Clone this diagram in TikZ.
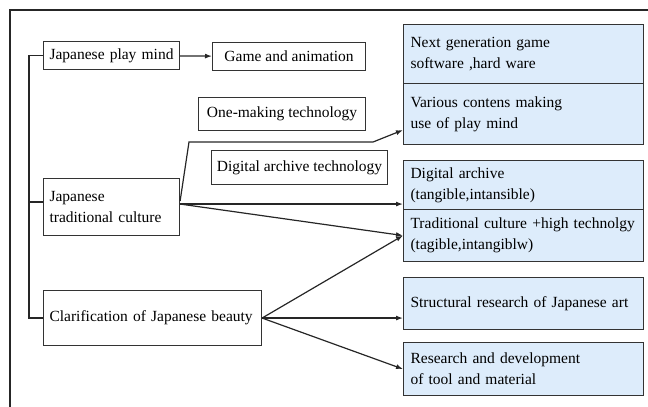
\documentclass[tikz,border=0pt]{standalone}
\usepackage{fontspec}
\setmainfont{Liberation Serif}
\usetikzlibrary{arrows.meta}
\definecolor{hellblau}{RGB}{221,236,251}
\begin{document}
\begin{tikzpicture}[x=1pt,y=-1pt,
    every node/.style={font=\fontsize{15.5}{21}\selectfont},
    box/.style={draw=black!80,line width=1.1pt,inner sep=0pt,anchor=north west},
    bluebox/.style={box,fill=hellblau,minimum width=240,text width=226,align=left},
    line/.style={draw=black!85,line width=1.2pt},
    arrow/.style={line,-{Latex[length=7pt,width=5pt]}}]
  \useasboundingbox (0,0) rectangle (648,407);

  % Rahmen
  \draw[line width=1.6pt,black!85] (10,407) -- (10,10) -- (648,10);

  % Linke Kaesten
  \node[box,minimum width=136,minimum height=28,text width=124,align=left]
    (playmind) at (43,41) {Japanese play mind};
  \node[box,minimum width=136,minimum height=57,text width=124,align=left]
    (tradcult) at (43,178) {Japanese\\traditional culture};
  \node[box,minimum width=218,minimum height=55,text width=206,align=left]
    (beauty) at (43,290) {Clarification of Japanese beauty};

  % Mittlere Kaesten
  \node[box,minimum width=153,minimum height=28] (game) at (212,42) {Game and animation};
  \node[box,minimum width=167,minimum height=33] (onemaking) at (198,97) {One-making technology};
  \node[box,minimum width=176,minimum height=34] (digtech) at (211,150) {Digital archive technology};

  % Rechte Kaesten (blau)
  \foreach \name/\top/\h/\txt in {
      next/24/59/{Next generation game\\software ,hard ware},
      various/83/61/{Various contens making\\use of play mind},
      digarch/160/49/{Digital archive\\(tangible,intansible)},
      tradhigh/209/52/{Traditional culture +high technolgy\\(tagible,intangiblw)},
      structural/277/52/{Structural research of Japanese art},
      research/342/53/{Research and development\\of tool and material}}{
    \node[bluebox,minimum height=\h] (\name) at (403,\top) {\txt};
  }

  % Klammer links
  \draw[line] (playmind.west) -- ++(-14,0) |- (beauty.west);
  \draw[line] ([yshift=5pt]tradcult.west) -- ++(-14,0);

  % Pfeile
  \draw[arrow] (playmind) -- (game);
  \coordinate (t0) at ([yshift=6pt]tradcult.east);
  \coordinate (t1) at ([yshift=3pt]tradcult.east);
  \coordinate (k1) at (189,142);
  \coordinate (k2) at (373,142);
  \draw[arrow] (t0) -- (k1) -- (k2) -- ([yshift=-16pt]various.west);
  \draw[arrow] (t1) -- (t1 -| digarch.west);
  \draw[arrow] (t1) -- (tradhigh.west);
  \draw[arrow] (beauty.east) -- (tradhigh.west);
  \draw[arrow] (beauty.east) -- (beauty.east -| structural.west);
  \draw[arrow] (beauty.east) -- (research.west);

\end{tikzpicture}
\end{document}
